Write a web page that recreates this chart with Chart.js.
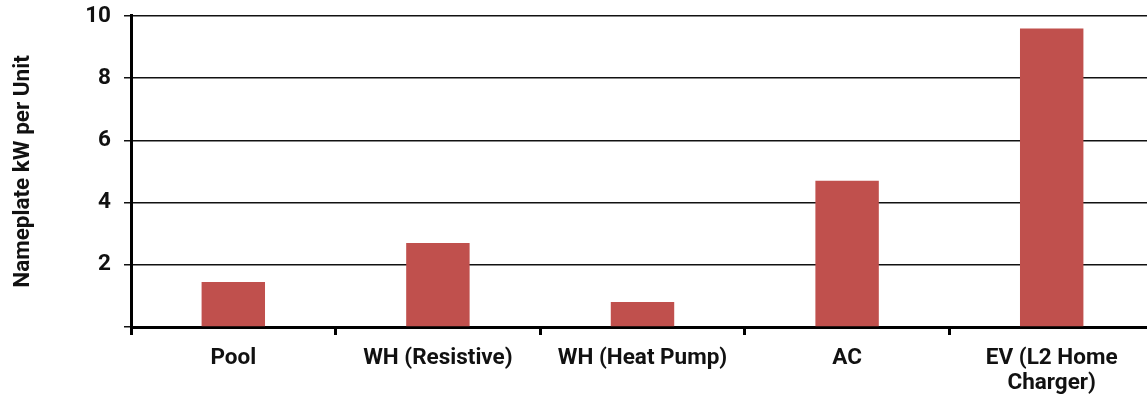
<!DOCTYPE html>
<html>
<head>
<meta charset="utf-8">
<script src="https://cdn.jsdelivr.net/npm/chart.js@4"></script>
<style>
    html, body { margin: 0; padding: 0; background: #fff; overflow: hidden; }
    #wrap { width: 1154px; height: 407px; position: relative; margin-top: -10px; }
</style>
</head>
<body>
<div id="wrap"><canvas id="kwChart"></canvas></div>
<script>
const categories = ['Pool', 'WH (Resistive)', 'WH (Heat Pump)', 'AC', ['EV (L2 Home', 'Charger)']];
const kwPerUnit = [1.45, 2.7, 0.8, 4.7, 9.6];
const yTicks = [0, 2, 4, 6, 8, 10];

const tickFont = { family: 'Roboto', size: 22.5, weight: 'bold', lineHeight: 1.15 };
const titleFont = { family: 'Roboto', size: 22.5, weight: 'bold' };

new Chart(document.getElementById('kwChart'), {
    type: 'bar',
    data: {
        labels: categories,
        datasets: [
            {
                label: 'Nameplate kW per Unit',
                data: kwPerUnit,
                backgroundColor: '#C0504D',
                borderWidth: 0,
                barPercentage: 0.31,
                categoryPercentage: 1,
            },
        ],
    },
    options: {
        responsive: true,
        maintainAspectRatio: false,
        animation: false,
        plugins: {
            legend: { display: false },
            tooltip: { enabled: false },
        },
        scales: {
            x: {
                offset: true,
                grid: {
                    offset: true,
                    drawOnChartArea: false,
                    drawTicks: true,
                    tickLength: 8,
                    color: '#000',
                    lineWidth: 3,
                },
                border: { color: '#000', width: 3 },
                ticks: {
                    color: '#111',
                    font: tickFont,
                    padding: 10,
                    maxRotation: 0,
                    autoSkip: false,
                },
                afterFit: function (scale) {
                    scale.height = 70;
                },
            },
            y: {
                min: 0,
                max: 10,
                afterBuildTicks: function (scale) {
                    scale.ticks = yTicks.map(function (v) { return { value: v }; });
                },
                grid: {
                    color: '#111',
                    lineWidth: 1.5,
                    drawTicks: true,
                    tickLength: 7,
                },
                border: { color: '#000', width: 3 },
                ticks: {
                    color: '#111',
                    font: tickFont,
                    padding: 13,
                    callback: function (value) {
                        return value === 0 ? '' : value;
                    },
                },
                title: {
                    display: true,
                    text: 'Nameplate kW per Unit',
                    color: '#111',
                    font: titleFont,
                    padding: { top: 10, bottom: 0 },
                },
                afterFit: function (scale) {
                    scale.width = 131;
                },
            },
        },
    },
});
</script>
</body>
</html>
